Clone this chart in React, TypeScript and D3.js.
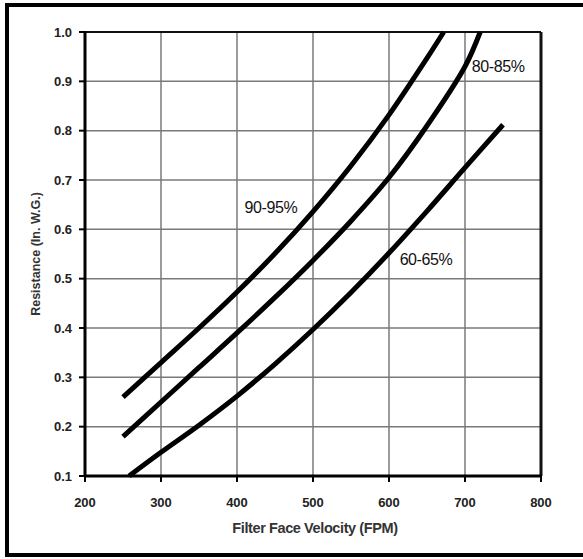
import React from "react";
import * as d3 from "d3";

const xTicks = [200, 300, 400, 500, 600, 700, 800];
const yTicks = [0.1, 0.2, 0.3, 0.4, 0.5, 0.6, 0.7, 0.8, 0.9, 1.0];

const fpm9095 = [250, 300, 350, 400, 450, 500, 550, 600, 650, 672];
const res9095 = [0.26, 0.33, 0.4, 0.473, 0.551, 0.636, 0.729, 0.832, 0.947, 1.0];

const fpm8085 = [250, 300, 350, 400, 450, 500, 550, 600, 650, 700, 720];
const res8085 = [0.18, 0.25, 0.32, 0.39, 0.462, 0.537, 0.617, 0.705, 0.81, 0.93, 1.0];

const fpm6065 = [258, 300, 350, 400, 450, 500, 550, 600, 650, 700, 750];
const res6065 = [0.1, 0.148, 0.203, 0.262, 0.327, 0.397, 0.472, 0.552, 0.637, 0.725, 0.812];

const labelTexts = ["90-95%", "80-85%", "60-65%"];
const labelFpm = [410, 709, 614];
const labelRes = [0.633, 0.919, 0.528];

const series = [
  { fpm: fpm9095, res: res9095 },
  { fpm: fpm8085, res: res8085 },
  { fpm: fpm6065, res: res6065 },
];

const W = 583;
const H = 559;
const left = 85;
const right = 541;
const top = 32;
const bottom = 476;

export default function App() {
  const x = d3.scaleLinear().domain([200, 800]).range([left, right]);
  const y = d3.scaleLinear().domain([0.1, 1.0]).range([bottom, top]);
  const line = d3
    .line<[number, number]>()
    .x((d) => x(d[0]))
    .y((d) => y(d[1]))
    .curve(d3.curveCatmullRom.alpha(0.5));

  const font = "'Liberation Sans', Arial, sans-serif";

  return (
    <svg
      width={W}
      height={H}
      style={{ position: "absolute", left: 0, top: 0, background: "#fff" }}
      fontFamily={font}
    >
      <rect x={0} y={0} width={W} height={H} fill="#fff" />
      <rect x={7} y={5} width={620} height={550} fill="none" stroke="#000" strokeWidth={4} />

      {/* grid */}
      {xTicks.slice(1, -1).map((t) => (
        <line key={"gx" + t} x1={x(t)} x2={x(t)} y1={top} y2={bottom} stroke="#7a7a7a" strokeWidth={1.5} />
      ))}
      {yTicks.slice(1, -1).map((t) => (
        <line key={"gy" + t} x1={left} x2={right} y1={y(t)} y2={y(t)} stroke="#7a7a7a" strokeWidth={1.5} />
      ))}

      {/* frame */}
      <line x1={left} x2={right} y1={top} y2={top} stroke="#111" strokeWidth={2} />
      <line x1={right} x2={right} y1={top} y2={bottom} stroke="#111" strokeWidth={3} />
      <line x1={left} x2={left} y1={top - 1} y2={bottom + 1} stroke="#000" strokeWidth={3} />
      <line x1={left - 1} x2={right + 1} y1={bottom} y2={bottom} stroke="#000" strokeWidth={3} />

      {/* ticks */}
      {yTicks.map((t) => (
        <g key={"yt" + t}>
          <line x1={left - 6} x2={left} y1={y(t)} y2={y(t)} stroke="#000" strokeWidth={2} />
          <text
            x={left - 13}
            y={y(t)}
            dy="0.36em"
            textAnchor="end"
            fontSize={13}
            fontWeight="bold"
            fill="#222"
          >
            {t.toFixed(1)}
          </text>
        </g>
      ))}
      {xTicks.map((t) => (
        <g key={"xt" + t}>
          <line x1={x(t)} x2={x(t)} y1={bottom} y2={bottom + 6} stroke="#000" strokeWidth={2} />
          <text x={x(t)} y={bottom + 31} textAnchor="middle" fontSize={13} fontWeight="bold" fill="#222">
            {t}
          </text>
        </g>
      ))}

      {/* curves */}
      {series.map((s, i) => (
        <path
          key={"s" + i}
          d={line(s.fpm.map((f, j) => [f, s.res[j]] as [number, number])) || ""}
          fill="none"
          stroke="#000"
          strokeWidth={5}
          strokeLinecap="butt"
        />
      ))}

      {/* curve labels */}
      {labelTexts.map((t, i) => (
        <text
          key={t}
          x={x(labelFpm[i])}
          y={y(labelRes[i])}
          fontSize={16}
          fill="#111"
          letterSpacing={-0.4}
        >
          {t}
        </text>
      ))}

      {/* axis titles */}
      <text x={(left + right) / 2 + 2} y={533} textAnchor="middle" fontSize={14.5} fontWeight="bold" fill="#333" letterSpacing={-0.4}>
        Filter Face Velocity (FPM)
      </text>
      <text
        transform={`translate(40, ${(top + bottom) / 2}) rotate(-90)`}
        textAnchor="middle"
        fontSize={12.5}
        fontWeight="bold"
        fill="#333"
      >
        Resistance (In. W.G.)
      </text>
    </svg>
  );
}
